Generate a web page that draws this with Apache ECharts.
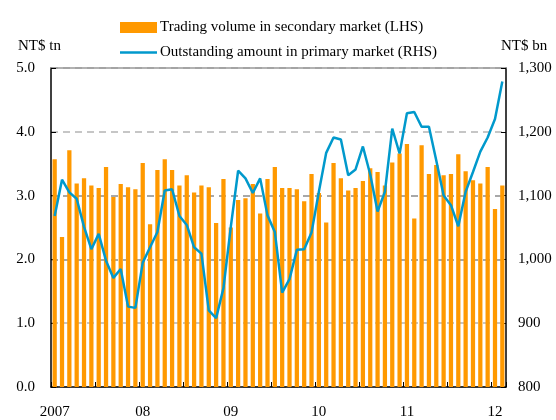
<!DOCTYPE html>
<html>
<head>
<meta charset="utf-8">
<script src="https://cdn.jsdelivr.net/npm/echarts@6/dist/echarts.min.js"></script>
<style>
html,body{margin:0;padding:0;background:#fff;}
#chart{width:556px;height:420px;}
</style>
</head>
<body>
<div id="chart"></div>
<script>
// Months Jan 2007 .. Feb 2012
var categories = [];
for (var y = 2007; y <= 2012; y++) {
  for (var m = 1; m <= 12; m++) {
    if (y === 2012 && m > 2) break;
    categories.push(y + '-' + (m < 10 ? '0' + m : m));
  }
}
var yearLabels = {'2007':'2007','2008':'08','2009':'09','2010':'10','2011':'11','2012':'12'};

// Trading volume in secondary market (LHS, NT$ tn)
var tradingVolume = [
  3.57, 2.35, 3.71, 3.19, 3.27, 3.16, 3.12, 3.45, 2.98, 3.18, 3.13, 3.10,
  3.51, 2.55, 3.40, 3.57, 3.40, 3.16, 3.32, 3.05, 3.16, 3.13, 2.57, 3.26,
  2.50, 2.93, 2.96, 3.18, 2.72, 3.26, 3.45, 3.12, 3.12, 3.10, 2.91, 3.34,
  3.04, 2.58, 3.51, 3.27, 3.08, 3.12, 3.23, 3.43, 3.37, 3.16, 3.52, 3.66,
  3.81, 2.64, 3.79, 3.34, 3.48, 3.32, 3.34, 3.65, 3.38, 3.24, 3.19, 3.45,
  2.79, 3.16
];

// Outstanding amount in primary market (RHS, NT$ bn)
var outstandingAmount = [
  1068, 1125, 1105, 1095, 1051, 1016, 1040, 998, 971, 985, 926, 924,
  995, 1019, 1043, 1108, 1110, 1068, 1054, 1019, 1009, 920, 908, 955,
  1051, 1139, 1127, 1104, 1127, 1069, 1043, 948, 969, 1015, 1016, 1042,
  1106, 1167, 1191, 1188, 1132, 1141, 1177, 1133, 1075, 1106, 1205, 1166,
  1229, 1231, 1208, 1208, 1155, 1100, 1085, 1052, 1106, 1137, 1169, 1191,
  1220, 1279
];

var leftTicks = {min: 0, max: 5, interval: 1};
var rightTicks = {min: 800, max: 1300, interval: 100};

var FONT = 'Liberation Serif, Times New Roman, serif';
var chart = echarts.init(document.getElementById('chart'), null, {renderer: 'canvas'});

chart.setOption({
  animation: false,
  backgroundColor: '#fff',
  textStyle: {fontFamily: FONT, color: '#000'},
  legend: {
    orient: 'vertical',
    left: 115,
    top: 15,
    itemWidth: 37,
    itemHeight: 11,
    itemGap: 10,
    symbolKeepAspect: true,
    textStyle: {fontFamily: FONT, fontSize: 15, color: '#000', padding: [0, 0, 0, -2]},
    data: [
      {name: 'Trading volume in secondary market (LHS)', icon: 'rect'},
      {name: 'Outstanding amount in primary market (RHS)', icon: 'path://M0,0 L37,0 L37,2.5 L0,2.5 Z', itemStyle: {color: '#0099CC'}}
    ]
  },
  graphic: [
    {type: 'text', left: 18, top: 39, style: {text: 'NT$ tn', font: '15px ' + FONT, fill: '#000'}},
    {type: 'text', left: 501, top: 39, style: {text: 'NT$ bn', font: '15px ' + FONT, fill: '#000'}}
  ],
  grid: {left: 51, right: 50, top: 68, bottom: 33, containLabel: false},
  xAxis: [
    {
      type: 'category',
      data: categories,
      boundaryGap: true,
      axisLine: {lineStyle: {color: '#000', width: 1.5}},
      axisTick: {show: true, inside: true, length: 5, interval: 5, alignWithLabel: false, lineStyle: {color: '#000'}},
      axisLabel: {
        interval: 11,
        margin: 18,
        fontFamily: FONT, fontSize: 15, color: '#000',
        formatter: function (v) { return yearLabels[v.slice(0, 4)]; }
      },
      splitLine: {show: false}
    },
    {
      type: 'category',
      position: 'top',
      data: categories,
      axisLine: {lineStyle: {color: '#999', width: 1.5}},
      axisTick: {show: false},
      axisLabel: {show: false}
    }
  ],
  yAxis: [
    {
      type: 'value',
      min: leftTicks.min, max: leftTicks.max, interval: leftTicks.interval,
      axisLine: {show: true, lineStyle: {color: '#000', width: 1.5}},
      axisTick: {show: true, inside: true, length: 5, lineStyle: {color: '#000'}},
      axisLabel: {margin: 16, fontFamily: FONT, fontSize: 15, color: '#000',
        formatter: function (v) { return v.toFixed(1); }},
      splitLine: {show: true, lineStyle: {type: [7, 5], width: 1.5,
        color: ['#b4b4b4', '#b4b4b4', '#8c8c8c', '#8c8c8c', '#b4b4b4', '#b4b4b4']}}
    },
    {
      type: 'value',
      min: rightTicks.min, max: rightTicks.max, interval: rightTicks.interval,
      position: 'right',
      axisLine: {show: true, lineStyle: {color: '#000', width: 1.5}},
      axisTick: {show: true, inside: true, length: 5, lineStyle: {color: '#000'}},
      axisLabel: {margin: 12, fontFamily: FONT, fontSize: 15, color: '#000',
        formatter: function (v) { return v.toLocaleString('en-US'); }},
      splitLine: {show: false}
    }
  ],
  series: [
    {
      name: 'Trading volume in secondary market (LHS)',
      type: 'bar',
      yAxisIndex: 0,
      data: tradingVolume,
      barWidth: '58%',
      itemStyle: {color: '#FF9900'}
    },
    {
      name: 'Outstanding amount in primary market (RHS)',
      type: 'line',
      yAxisIndex: 1,
      data: outstandingAmount,
      symbol: 'none',
      lineStyle: {color: '#0099CC', width: 2.5},
      itemStyle: {color: '#0099CC'},
      z: 5
    }
  ]
});
</script>
</body>
</html>
